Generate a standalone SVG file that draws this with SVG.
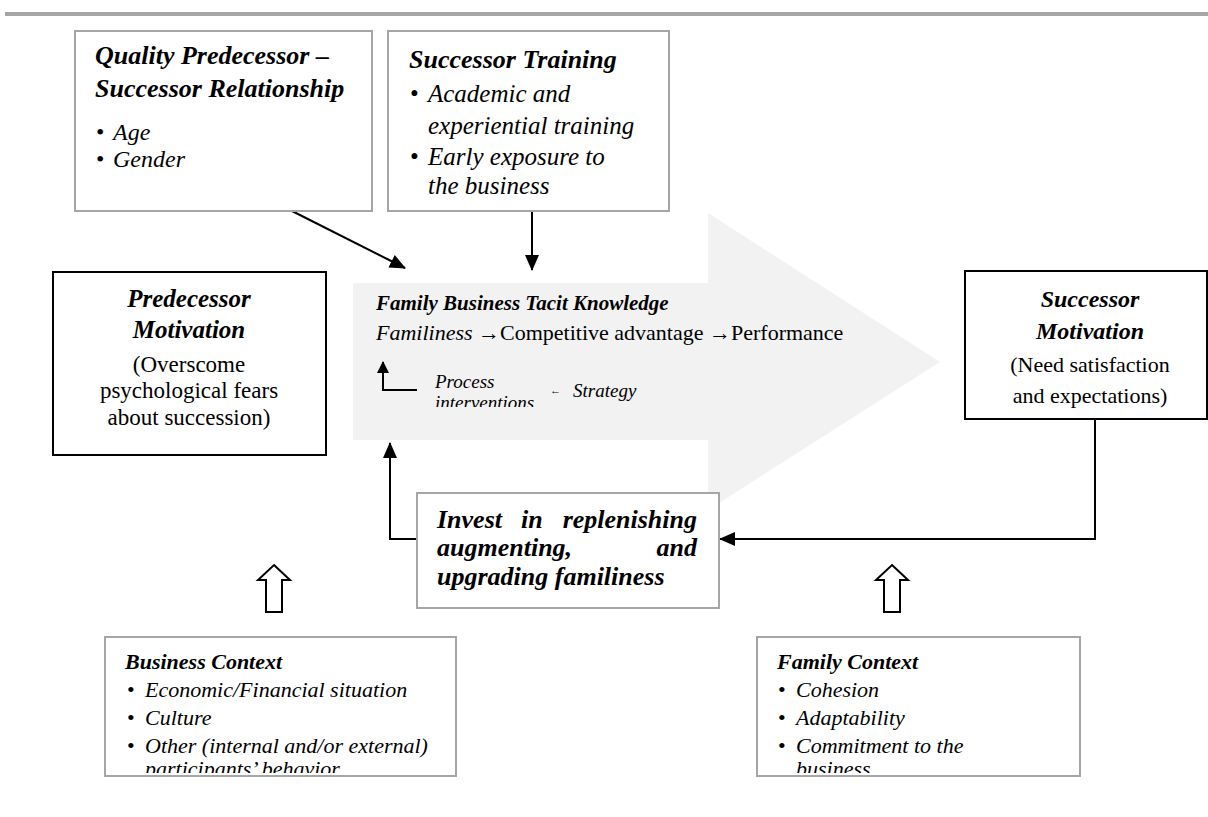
<svg xmlns="http://www.w3.org/2000/svg" width="1208" height="817" viewBox="0 0 1208 817">
  <style>
    .t { font-family: "Liberation Serif", "Times New Roman", serif; fill: #000; }
    .bi { font-weight: bold; font-style: italic; }
    .i { font-style: italic; }
    .graybox { fill: #fff; stroke: #a6a6a6; stroke-width: 2; }
    .blackbox { fill: #fff; stroke: #000; stroke-width: 2; }
    .conn { fill: none; stroke: #000; stroke-width: 2; }
    .hollow { fill: #fff; stroke: #000; stroke-width: 2; stroke-linejoin: miter; }
  </style>
  <defs>
    <marker id="head" markerUnits="userSpaceOnUse" markerWidth="16" markerHeight="14" refX="15" refY="7" orient="auto">
      <path d="M0,0 L16,7 L0,14 Z" fill="#000"/>
    </marker>
    <marker id="headSmall" markerUnits="userSpaceOnUse" markerWidth="12" markerHeight="12" refX="11" refY="6" orient="auto">
      <path d="M0,0 L12,6 L0,12 Z" fill="#000"/>
    </marker>
    <clipPath id="clipProcess"><rect x="420" y="360" width="150" height="47"/></clipPath>
    <clipPath id="clipBusiness"><rect x="105" y="637" width="352" height="136"/></clipPath>
    <clipPath id="clipFamily"><rect x="757" y="637" width="324" height="136"/></clipPath>
  </defs>

  <!-- page rule -->
  <rect x="5" y="12" width="1203" height="4" fill="#a6a6a6"/>

  <!-- central knowledge arrow -->
  <g id="tacit-knowledge">
    <polygon points="353,283 708,283 708,213 940,362 708,510 708,440 353,440" fill="#f2f2f2"/>
    <text class="t bi" x="376" y="310" font-size="21">Family Business Tacit Knowledge</text>
    <text class="t" x="376" y="340" font-size="22"><tspan class="i">Familiness</tspan> →Competitive advantage →Performance</text>
    <path class="conn" d="M417,390 H383 V362" marker-end="url(#headSmall)"/>
    <g clip-path="url(#clipProcess)">
      <text class="t i" x="435" y="388" font-size="19">Process</text>
      <text class="t i" x="435" y="409" font-size="19">interventions</text>
    </g>
    <text class="t" x="550" y="394" font-size="11">←</text>
    <text class="t i" x="573" y="397" font-size="19">Strategy</text>
  </g>

  <!-- connectors -->
  <g id="connectors">
    <line class="conn" x1="290" y1="210" x2="405" y2="268" marker-end="url(#head)"/>
    <line class="conn" x1="532" y1="211" x2="532" y2="270" marker-end="url(#head)"/>
    <path class="conn" d="M1095,419 V539 H720" marker-end="url(#head)"/>
    <path class="conn" d="M417,539 H390 V443" marker-end="url(#head)"/>
    <polygon class="hollow" points="274,565 290,580 282,580 282,612 266,612 266,580 258,580"/>
    <polygon class="hollow" points="892,565 908,580 900,580 900,612 884,612 884,580 876,580"/>
  </g>

  <g id="quality-relationship">
    <rect class="graybox" x="75" y="31" width="297" height="180"/>
    <text class="t bi" x="95" y="64" font-size="26">Quality Predecessor –</text>
    <text class="t bi" x="95" y="97" font-size="26">Successor Relationship</text>
    <text class="t" x="96" y="140" font-size="24">•</text>
    <text class="t i" x="113" y="140" font-size="24">Age</text>
    <text class="t" x="96" y="167" font-size="24">•</text>
    <text class="t i" x="113" y="167" font-size="24">Gender</text>
  </g>

  <g id="successor-training">
    <rect class="graybox" x="388" y="31" width="281" height="180"/>
    <text class="t bi" x="409" y="68" font-size="26">Successor Training</text>
    <text class="t" x="410" y="102" font-size="25">•</text>
    <text class="t i" x="428" y="102" font-size="25">Academic and</text>
    <text class="t i" x="428" y="134" font-size="25">experiential training</text>
    <text class="t" x="410" y="165" font-size="25">•</text>
    <text class="t i" x="428" y="165" font-size="25">Early exposure to</text>
    <text class="t i" x="428" y="194" font-size="25">the business</text>
  </g>

  <g id="predecessor-motivation">
    <rect class="blackbox" x="53" y="272" width="273" height="183"/>
    <text class="t bi" x="189" y="307" font-size="25" text-anchor="middle">Predecessor</text>
    <text class="t bi" x="189" y="338" font-size="25" text-anchor="middle">Motivation</text>
    <text class="t" x="189" y="372" font-size="23" text-anchor="middle">(Overscome</text>
    <text class="t" x="189" y="398" font-size="23" text-anchor="middle">psychological fears</text>
    <text class="t" x="189" y="425" font-size="23" text-anchor="middle">about succession)</text>
  </g>

  <g id="successor-motivation">
    <rect class="blackbox" x="965" y="271" width="242" height="148"/>
    <text class="t bi" x="1090" y="307" font-size="24" text-anchor="middle">Successor</text>
    <text class="t bi" x="1090" y="339" font-size="24" text-anchor="middle">Motivation</text>
    <text class="t" x="1090" y="372" font-size="22" text-anchor="middle">(Need satisfaction</text>
    <text class="t" x="1090" y="403" font-size="22" text-anchor="middle">and expectations)</text>
  </g>

  <g id="invest-familiness">
    <rect class="graybox" x="417" y="493" width="302" height="115"/>
    <text class="t bi" x="437" y="528" font-size="26">Invest</text>
    <text class="t bi" x="521" y="528" font-size="26">in</text>
    <text class="t bi" x="697" y="528" font-size="26" text-anchor="end">replenishing</text>
    <text class="t bi" x="437" y="556" font-size="26">augmenting,</text>
    <text class="t bi" x="697" y="556" font-size="26" text-anchor="end">and</text>
    <text class="t bi" x="437" y="585" font-size="26">upgrading familiness</text>
  </g>

  <g id="business-context">
    <rect class="graybox" x="105" y="637" width="351" height="139"/>
    <g clip-path="url(#clipBusiness)">
      <text class="t bi" x="125" y="669" font-size="22">Business Context</text>
      <text class="t" x="127" y="697" font-size="22">•</text>
      <text class="t i" x="145" y="697" font-size="22">Economic/Financial situation</text>
      <text class="t" x="127" y="725" font-size="22">•</text>
      <text class="t i" x="145" y="725" font-size="22">Culture</text>
      <text class="t" x="127" y="753" font-size="22">•</text>
      <text class="t i" x="145" y="753" font-size="22">Other (internal and/or external)</text>
      <text class="t i" x="145" y="776" font-size="22">participants’ behavior</text>
    </g>
  </g>

  <g id="family-context">
    <rect class="graybox" x="757" y="637" width="323" height="139"/>
    <g clip-path="url(#clipFamily)">
      <text class="t bi" x="777" y="669" font-size="22">Family Context</text>
      <text class="t" x="778" y="697" font-size="22">•</text>
      <text class="t i" x="796" y="697" font-size="22">Cohesion</text>
      <text class="t" x="778" y="725" font-size="22">•</text>
      <text class="t i" x="796" y="725" font-size="22">Adaptability</text>
      <text class="t" x="778" y="753" font-size="22">•</text>
      <text class="t i" x="796" y="753" font-size="22">Commitment to the</text>
      <text class="t i" x="796" y="776" font-size="22">business</text>
    </g>
  </g>
</svg>
